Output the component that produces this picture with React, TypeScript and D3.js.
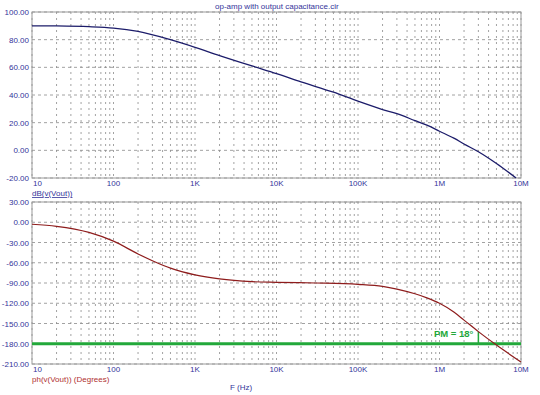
import React from 'react';
import * as d3 from 'd3';

// magnitude, dB(v(Vout))
const magFreq = [10, 20, 50, 100, 200, 500, 1e3, 2e3, 5e3, 1e4, 2e4, 5e4, 1e5, 2e5, 3e5, 5e5, 7e5, 1e6, 1.5e6, 2e6, 3e6, 5e6, 8.7e6];
const magDb = [90, 89.9, 89.4, 88.4, 86, 80, 74.5, 68.5, 61, 55.5, 49.5, 42, 35.5, 29.5, 26.5, 21.5, 18.2, 13.8, 8.8, 4.6, -1, -9.5, -20];

// phase, ph(v(Vout))
const phFreq = [10, 20, 50, 100, 200, 300, 500, 1e3, 2e3, 5e3, 1e4, 3e4, 1e5, 2e5, 3e5, 5e5, 7e5, 1e6, 1.5e6, 2e6, 3e6, 5e6, 1e7];
const phDeg = [-3, -6, -15, -28, -47, -57, -68, -78, -84, -88, -89, -90, -92, -95, -99, -106, -112, -120, -133, -145, -162, -182, -207];

const xTicks = [10, 100, 1e3, 1e4, 1e5, 1e6, 1e7];
const xTickLabels = ['10', '100', '1K', '10K', '100K', '1M', '10M'];
const magTicks = [100, 80, 60, 40, 20, 0, -20];
const phTicks = [30, 0, -30, -60, -90, -120, -150, -180, -210];

const pmFreq = 3e6;
const pmPhase = -162;
const refPhase = -180;

const W = 540, H = 395;
const left = 32, right = 521;
const blue = '#34349a';
const grid = '#8a8a8a';
const green = '#22a83a';
const font = 'Arial, "Liberation Sans", sans-serif';

const x = d3.scaleLog().domain([10, 1e7]).range([left, right]);
const yMag = d3.scaleLinear().domain([-20, 100]).range([178, 12]);
const yPh = d3.scaleLinear().domain([-210, 30]).range([364, 202]);

const minors: number[] = [];
for (let d = 10; d < 1e7; d *= 10) for (let k = 2; k < 10; k++) minors.push(d * k);

function Grid({ y, ticks }: { y: d3.ScaleLinear<number, number>; ticks: number[] }) {
  const [y0, y1] = y.range();
  return (
    <g>
      {minors.concat(xTicks).map((f, i) => (
        <line key={'v' + i} x1={x(f)} x2={x(f)} y1={y1} y2={y0} stroke={grid} strokeWidth={0.8} strokeDasharray="2,4" />
      ))}
      {ticks.map((t, i) => (
        <line key={'h' + i} x1={left} x2={right} y1={y(t)} y2={y(t)} stroke={grid} strokeWidth={0.8} strokeDasharray="3,3" />
      ))}
      <rect x={left} y={y1} width={right - left} height={y0 - y1} fill="none" stroke="#9a9a9a" strokeWidth={1} />
      {ticks.map((t, i) => (
        <text key={'t' + i} x={left - 3} y={y(t) + 3} textAnchor="end" fontSize={8} fill={blue} fontFamily={font}>
          {t.toFixed(2)}
        </text>
      ))}
      {xTicks.map((f, i) => (
        <text key={'x' + i} x={i === 0 ? x(f) + 1 : x(f)} y={y0 + 8} textAnchor={i === 0 ? 'start' : 'middle'} fontSize={8} fill={blue} fontFamily={font}>
          {xTickLabels[i]}
        </text>
      ))}
    </g>
  );
}

export default function App() {
  const magLine = d3.line<number>().x((_, i) => x(magFreq[i])).y((d) => yMag(d)).curve(d3.curveMonotoneX);
  const phLine = d3.line<number>().x((_, i) => x(phFreq[i])).y((d) => yPh(d)).curve(d3.curveMonotoneX);

  return (
    <svg width={W} height={H} style={{ position: 'absolute', left: 0, top: 0, background: '#fff' }}>
      <text x={215} y={9} fontSize={8} fill={blue} fontFamily={font}>op-amp with output capacitance.cir</text>

      <Grid y={yMag} ticks={magTicks} />
      <path d={magLine(magDb) || ''} fill="none" stroke="#1c1c6a" strokeWidth={1.3} />
      <text x={left} y={196} fontSize={8} fill={blue} fontFamily={font} textDecoration="underline">dB(v(Vout))</text>

      <Grid y={yPh} ticks={phTicks} />
      <line x1={left} x2={right} y1={yPh(refPhase)} y2={yPh(refPhase)} stroke={green} strokeWidth={3} />
      <line x1={x(pmFreq)} x2={x(pmFreq)} y1={yPh(refPhase)} y2={yPh(pmPhase)} stroke={green} strokeWidth={1.5} />
      <path d={phLine(phDeg) || ''} fill="none" stroke="#8e1c1c" strokeWidth={1.2} />
      <text x={x(pmFreq) - 5} y={yPh(-170)} textAnchor="end" fontSize={9.5} fontWeight="bold" fill={green} fontFamily={font}>PM = 18°</text>
      <text x={left} y={382} fontSize={8} fill="#b03030" fontFamily={font}>ph(v(Vout)) (Degrees)</text>
      <text x={230} y={390} fontSize={8} fill={blue} fontFamily={font}>F (Hz)</text>
    </svg>
  );
}
